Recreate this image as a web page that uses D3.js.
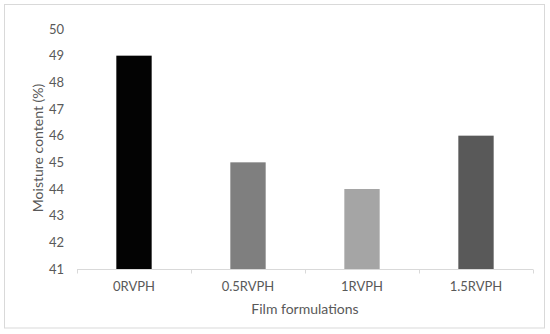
<!DOCTYPE html>
<html>
<head>
<meta charset="utf-8">
<script src="https://cdn.jsdelivr.net/npm/d3@7"></script>
<style>
  body { margin: 0; background: #fff; }
  text { font-family: Lato, "Open Sans", sans-serif; fill: #595959; }
</style>
</head>
<body>
<div id="chart"></div>
<script>
const categories = ["0RVPH", "0.5RVPH", "1RVPH", "1.5RVPH"];
const moisture = [49, 45, 44, 46];
const barColors = ["#030303", "#7f7f7f", "#a5a5a5", "#595959"];
const yTicks = [41, 42, 43, 44, 45, 46, 47, 48, 49, 50];

let width = 550,
    height = 334;

const margin = { left: 77, right: 17, top: 29, bottom: 65 };

const svg = d3.select("#chart")
  .append("svg")
  .attr("width", width)
  .attr("height", height);

// chart area border
svg.append("rect")
  .attr("x", 4.5).attr("y", 4.5)
  .attr("width", 540).attr("height", 323.5)
  .attr("fill", "#fff")
  .attr("stroke", "#d9d9d9");

const x = d3.scaleBand()
  .domain(categories)
  .range([margin.left, width - margin.right])
  .paddingInner(0.69)
  .paddingOuter(0.345);

const xOuter = d3.scaleBand()
  .domain(categories)
  .range([margin.left, width - margin.right]);

const y = d3.scaleLinear()
  .domain([41, 50])
  .range([height - margin.bottom, margin.top]);

// bars
svg.selectAll(".bar")
  .data(categories)
  .enter().append("rect")
  .attr("class", "bar")
  .attr("x", d => x(d))
  .attr("width", x.bandwidth())
  .attr("y", (d, i) => y(moisture[i]))
  .attr("height", (d, i) => y(41) - y(moisture[i]))
  .attr("fill", (d, i) => barColors[i]);

// y axis labels (no line)
const yAxis = svg.append("g")
  .attr("transform", "translate(" + margin.left + ",0)")
  .call(d3.axisLeft(y).tickValues(yTicks).tickSize(0).tickPadding(13));
yAxis.select(".domain").remove();
yAxis.selectAll("text")
  .style("font-size", "13px")
  .style("font-family", "Lato, sans-serif")
  .attr("fill", "#595959");

// x axis line with ticks at category boundaries
const baseY = y(41) + 0.5;
svg.append("line")
  .attr("x1", margin.left).attr("x2", width - margin.right)
  .attr("y1", baseY).attr("y2", baseY)
  .attr("stroke", "#d9d9d9");

const bounds = categories.map(d => xOuter(d)).concat([width - margin.right]);
svg.selectAll(".xtick")
  .data(bounds)
  .enter().append("line")
  .attr("class", "xtick")
  .attr("x1", d => Math.round(d) + 0.5).attr("x2", d => Math.round(d) + 0.5)
  .attr("y1", baseY).attr("y2", baseY + 4)
  .attr("stroke", "#d9d9d9");

// x labels
svg.selectAll(".xlabel")
  .data(categories)
  .enter().append("text")
  .attr("class", "xlabel")
  .attr("x", d => xOuter(d) + xOuter.bandwidth() / 2)
  .attr("y", 291)
  .attr("text-anchor", "middle")
  .style("font-size", "13px")
  .text(d => d);

// axis titles
svg.append("text")
  .attr("x", 305)
  .attr("y", 314)
  .attr("text-anchor", "middle")
  .style("font-size", "14px")
  .text("Film formulations");

svg.append("text")
  .attr("transform", "translate(43,148) rotate(-90)")
  .attr("text-anchor", "middle")
  .style("font-size", "14px")
  .text("Moisture content (%)");
</script>
</body>
</html>
